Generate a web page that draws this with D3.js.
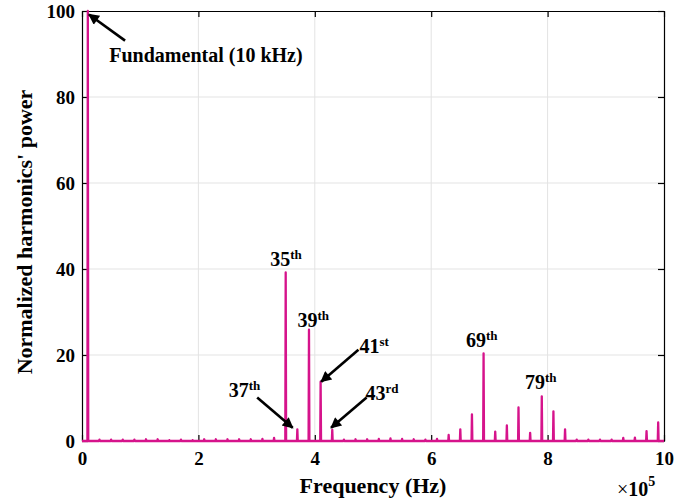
<!DOCTYPE html>
<html>
<head>
<meta charset="utf-8">
<script src="https://cdn.jsdelivr.net/npm/d3@7"></script>
<style>
  body { margin: 0; background: #fff; }
  svg text { font-family: "Liberation Serif", "Times New Roman", serif; font-weight: bold; fill: #000; }
</style>
</head>
<body>
<div id="chart-div"></div>
<script>
// chart size
const width = 700
const height = 502
const margin = {top: 11, right: 36, bottom: 61, left: 82}

// harmonic orders (fundamental = 10 kHz) and normalized power
const fundamentalHz = 10000
const harmonicOrder = [1, 3, 5, 7, 9, 11, 13, 15, 17, 19, 21, 23, 25, 27, 29, 31, 33, 35, 37, 39,
  41, 43, 45, 47, 49, 51, 53, 55, 57, 59, 61, 63, 65, 67, 69, 71, 73, 75, 77, 79,
  81, 83, 85, 87, 89, 91, 93, 95, 97, 99]
const harmonicPower = [100, 0.3, 0.3, 0.3, 0.3, 0.4, 0.4, 0.2, 0.3, 0.2, 0.4, 0.4, 0.4, 0.4, 0.4, 0.5, 0.7, 39.2, 2.7, 25.9,
  13.8, 2.6, 0.3, 0.4, 0.4, 0.5, 0.6, 0.5, 0.4, 0.3, 0.5, 1.4, 2.7, 6.2, 20.4, 2.2, 3.6, 7.8, 1.9, 10.4,
  6.9, 2.7, 0.3, 0.3, 0.3, 0.3, 0.7, 0.8, 2.3, 4.3]

// axis ticks
const xTicks = [0, 2e5, 4e5, 6e5, 8e5, 10e5]
const xTickLabels = ["0", "2", "4", "6", "8", "10"]
const yTicks = [0, 20, 40, 60, 80, 100]

// labelled harmonics: text, superscript, label anchor (Hz, power), optional arrow
const labelText = ["35", "39", "69", "79", "41", "37", "43"]
const labelSup = ["th", "th", "th", "th", "st", "th", "rd"]
const labelX = [3.505e5, 3.974e5, 6.868e5, 7.883e5, 5.02e5, 2.792e5, 5.155e5]
const labelY = [40.7, 26.4, 21.9, 12.0, 20.4, 10.3, 9.5]
const arrowFrom = [null, null, null, null, [4.75e5, 21.2], [3.01e5, 10.1], [4.89e5, 10.1]]
const arrowTo = [null, null, null, null, [4.11e5, 13.8], [3.62e5, 3.1], [4.28e5, 3.1]]

const color = "#d6138b"
const serif = '"Liberation Serif", "Times New Roman", serif'

const svg = d3.select("#chart-div")
  .append("svg")
  .attr("width", width)
  .attr("height", height)

const x = d3.scaleLinear()
  .domain([0, 1e6])
  .range([margin.left, width - margin.right])

const y = d3.scaleLinear()
  .domain([0, 100])
  .range([height - margin.bottom, margin.top])

// arrow head
svg.append("defs").append("marker")
  .attr("id", "head")
  .attr("viewBox", "0 0 10 10")
  .attr("refX", 9).attr("refY", 5)
  .attr("markerWidth", 5).attr("markerHeight", 4.2)
  .attr("markerUnits", "strokeWidth")
  .attr("orient", "auto")
  .append("path")
  .attr("d", "M0,0 L10,5 L0,10 Z")
  .attr("fill", "#000")

// grid
svg.append("g")
  .selectAll("line")
  .data(xTicks.slice(1, -1))
  .join("line")
    .attr("x1", d => x(d)).attr("x2", d => x(d))
    .attr("y1", y(0)).attr("y2", y(100))
    .attr("stroke", "#e3e3e3")
svg.append("g")
  .selectAll("line")
  .data(yTicks.slice(1, -1))
  .join("line")
    .attr("x1", x(0)).attr("x2", x(1e6))
    .attr("y1", d => y(d)).attr("y2", d => y(d))
    .attr("stroke", "#e3e3e3")

// axes (ticks inside, box on)
const tickLen = 6
const axisBottom = d3.axisBottom(x).tickValues(xTicks).tickFormat((d, i) => xTickLabels[i]).tickSizeInner(-tickLen).tickSizeOuter(0).tickPadding(11)
const axisTop = d3.axisTop(x).tickValues(xTicks).tickFormat("").tickSizeInner(-tickLen).tickSizeOuter(0)
const axisLeft = d3.axisLeft(y).tickValues(yTicks).tickSizeInner(-tickLen).tickSizeOuter(0).tickPadding(7)
const axisRight = d3.axisRight(y).tickValues(yTicks).tickFormat("").tickSizeInner(-tickLen).tickSizeOuter(0)

function styleAxis(g) {
  g.selectAll(".domain").attr("stroke", "#000").attr("stroke-width", 1.2)
  g.selectAll(".tick line").attr("stroke", "#000").attr("stroke-width", 1.2)
  g.selectAll(".tick text")
    .style("font-family", serif)
    .style("font-weight", "bold")
    .style("font-size", "19px")
    .attr("fill", "#000")
}

svg.append("g").attr("transform", `translate(0,${y(0)})`).call(axisBottom).call(styleAxis)
svg.append("g").attr("transform", `translate(0,${y(100)})`).call(axisTop).call(styleAxis)
svg.append("g").attr("transform", `translate(${x(0)},0)`).call(axisLeft).call(styleAxis)
svg.append("g").attr("transform", `translate(${x(1e6)},0)`).call(axisRight).call(styleAxis)

// spectrum: narrow spikes on a zero baseline
const halfWidth = 700
const points = [[0, 0]]
harmonicOrder.forEach((n, i) => {
  const f = n * fundamentalHz
  points.push([f - halfWidth, 0], [f, harmonicPower[i]], [f + halfWidth, 0])
})
points.push([1e6, 0])

const line = d3.line()
  .x(d => x(d[0]))
  .y(d => y(d[1]))

svg.append("path")
  .datum(points)
  .attr("d", line)
  .attr("fill", "none")
  .attr("stroke", color)
  .attr("stroke-width", 2.3)
  .attr("stroke-linejoin", "round")

// fundamental annotation
svg.append("text")
  .attr("x", x(4.69e4))
  .attr("y", y(88.2))
  .style("font-size", "20px")
  .text("Fundamental (10 kHz)")
svg.append("line")
  .attr("x1", x(7.4e4)).attr("y1", y(93.1))
  .attr("x2", x(1.2e4)).attr("y2", y(99.2))
  .attr("stroke", "#000").attr("stroke-width", 2.6)
  .attr("marker-end", "url(#head)")

// harmonic labels
labelText.forEach((t, i) => {
  const txt = svg.append("text")
    .attr("x", x(labelX[i]))
    .attr("y", y(labelY[i]))
    .attr("text-anchor", "middle")
    .style("font-size", "20px")
  txt.append("tspan").text(t)
  txt.append("tspan").attr("dy", -7).style("font-size", "13px").text(labelSup[i])
  if (arrowFrom[i]) {
    svg.append("line")
      .attr("x1", x(arrowFrom[i][0])).attr("y1", y(arrowFrom[i][1]))
      .attr("x2", x(arrowTo[i][0])).attr("y2", y(arrowTo[i][1]))
      .attr("stroke", "#000").attr("stroke-width", 2.6)
      .attr("marker-end", "url(#head)")
  }
})

// axis titles
svg.append("text")
  .attr("x", (x(0) + x(1e6)) / 2)
  .attr("y", 493)
  .attr("text-anchor", "middle")
  .style("font-size", "22px")
  .text("Frequency (Hz)")

svg.append("text")
  .attr("transform", `translate(32,${(y(0) + y(100)) / 2 + 6}) rotate(-90)`)
  .attr("text-anchor", "middle")
  .style("font-size", "22px")
  .text("Normalized harmonics' power")

// exponent label
const expo = svg.append("text")
  .attr("x", 617)
  .attr("y", 496)
  .style("font-family", serif)
  .style("font-size", "20px")
expo.append("tspan").style("font-weight", "normal").text("×")
expo.append("tspan").style("font-weight", "bold").text("10")
expo.append("tspan").attr("dy", -10).style("font-weight", "bold").style("font-size", "14px").text("5")
</script>
</body>
</html>
